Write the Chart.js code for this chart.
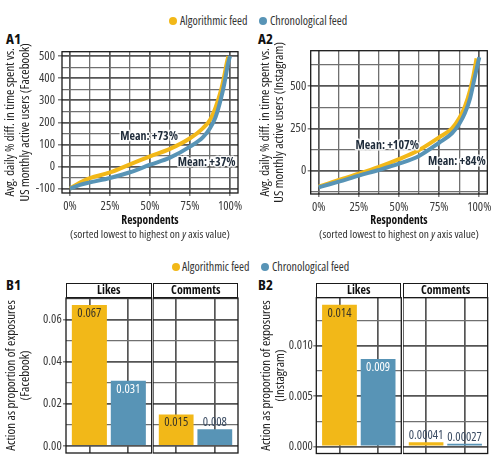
<!DOCTYPE html>
<html><head><meta charset="utf-8">
<script src="https://cdn.jsdelivr.net/npm/chart.js@4.4.1/dist/chart.umd.min.js"></script>
<style>
html,body{margin:0;padding:0;background:#fff;}
body{width:496px;height:462px;position:relative;overflow:hidden;font-family:'Open Sans',sans-serif;font-stretch:75%;color:#333;}
canvas{position:absolute;}
.tag{position:absolute;font-weight:bold;font-size:15px;line-height:15px;color:#111;font-stretch:75%;}
.leg{position:absolute;font-size:12px;line-height:12px;color:#333;white-space:nowrap;font-stretch:75%;}
.dot{position:absolute;width:8px;height:8px;border-radius:50%;}
.strip{position:absolute;box-sizing:border-box;border:1.3px solid #1a1a1a;background:#fff;font-weight:bold;font-size:12px;line-height:12.5px;color:#111;text-align:center;font-stretch:75%;}
</style></head>
<body>
<div class="dot" style="left:168.7px;top:16.7px;background:#f2b818"></div>
<div class="leg" style="left:180px;top:14.5px">Algorithmic feed</div>
<div class="dot" style="left:259px;top:16.7px;background:#5894b6"></div>
<div class="leg" style="left:270px;top:14.5px">Chronological feed</div>

<div class="dot" style="left:171.7px;top:262.7px;background:#f2b818"></div>
<div class="leg" style="left:182px;top:260.5px">Algorithmic feed</div>
<div class="dot" style="left:260.7px;top:262.7px;background:#5894b6"></div>
<div class="leg" style="left:272px;top:260.5px">Chronological feed</div>

<div class="tag" style="left:6px;top:30.5px">A1</div>
<div class="tag" style="left:258px;top:30.5px">A2</div>
<div class="tag" style="left:6px;top:276.5px">B1</div>
<div class="tag" style="left:258px;top:276.5px">B2</div>

<canvas id="a1" width="248" height="210" style="left:0;top:40px;width:248px;height:210px"></canvas>
<canvas id="a2" width="248" height="210" style="left:248px;top:40px;width:248px;height:210px"></canvas>
<canvas id="b1l" width="153" height="160" style="left:0;top:296px;width:153px;height:160px"></canvas>
<canvas id="b1c" width="87" height="160" style="left:153.3px;top:296px;width:87px;height:160px"></canvas>
<canvas id="b2l" width="155" height="160" style="left:248px;top:296px;width:155px;height:160px"></canvas>
<canvas id="b2c" width="87" height="160" style="left:403.3px;top:296px;width:87px;height:160px"></canvas>

<div class="strip" style="left:66px;top:283px;width:85.7px;height:15.3px">Likes</div>
<div class="strip" style="left:153.3px;top:283px;width:85px;height:15.3px">Comments</div>
<div class="strip" style="left:316.3px;top:282.7px;width:85px;height:15.3px">Likes</div>
<div class="strip" style="left:403.3px;top:282.7px;width:84.7px;height:15.3px">Comments</div>

<script>
// ---------- DATA ----------
const feeds = ['Algorithmic feed', 'Chronological feed'];
const metrics = ['Likes', 'Comments'];

// Panel A1 (Facebook): % of respondents (x) vs avg daily % diff (y)
const a1AlgoPct   = [0, 6.25, 12.5, 25, 37.5, 50, 62.5, 75, 83, 87.5, 91, 94.4, 96.5, 98, 99];
const a1AlgoVal   = [-100, -72, -53, -27, 10, 46, 80, 128, 173, 211, 268, 346, 414, 470, 500];
const a1ChronoPct = [0, 6.25, 12.5, 25, 37.5, 50, 62.5, 75, 83, 87.5, 91, 94.4, 96.5, 98.8, 100];
const a1ChronoVal = [-100, -83, -72, -52, -26, 8, 40, 90, 132, 173, 224, 309, 377, 467, 500];
const a1Means     = ['Mean: +73%', 'Mean: +37%'];

// Panel A2 (Instagram)
const a2AlgoPct   = [0, 6.25, 12.5, 25, 37.5, 50, 62.5, 75, 83, 87.5, 91, 94.3, 96.4, 98.3];
const a2AlgoVal   = [-95, -75, -55, -18, 22, 68, 122, 197, 250, 309, 378, 477, 565, 664];
const a2ChronoPct = [0, 6.25, 12.5, 25, 37.5, 50, 62.5, 75, 83, 87.5, 91, 94.3, 96.8, 99.5, 100];
const a2ChronoVal = [-98, -82, -65, -29, 4, 41, 87, 165, 221, 276, 339, 428, 536, 650, 670];
const a2Means     = ['Mean: +107%', 'Mean: +84%'];

// Panels B: action as proportion of exposures [algorithmic, chronological]
const b1Likes    = [0.067, 0.031];
const b1Comments = [0.015, 0.008];
const b2Likes    = [0.0141, 0.0087];
const b2Comments = [0.00041, 0.00027];

// Tick / grid values
const aXGrid   = [0, 12.5, 25, 37.5, 50, 62.5, 75, 87.5, 100];
const aXLabels = [0, 25, 50, 75, 100];
const a1YGrid   = [-100, -50, 0, 50, 100, 150, 200, 250, 300, 350, 400, 450, 500];
const a1YLabels = [-100, 0, 100, 200, 300, 400, 500];
const a2YGrid   = [-125, 0, 125, 250, 375, 500, 625];
const a2YLabels = [0, 250, 500];
const b1YGrid   = [0, 0.01, 0.02, 0.03, 0.04, 0.05, 0.06, 0.07];
const b1YLabels = [0, 0.02, 0.04, 0.06];
const b2YGrid   = [0, 0.0025, 0.005, 0.0075, 0.01, 0.0125];
const b2YLabels = [0, 0.005, 0.01];

// ---------- STYLE ----------
const FAM = "'Open Sans'";
const REG = 'condensed', BOLD = 'bold condensed';
const YELLOW = '#f2b818', BLUE = '#5894b6';
const MAJ_C = '#555', MAJ_W = 1.7, MIN_C = '#707070', MIN_W = 1.3;
Chart.defaults.font.family = FAM;
Chart.defaults.font.weight = REG;
Chart.defaults.font.size = 12;
Chart.defaults.color = '#3a3a3a';
Chart.defaults.animation = false;

const has = (arr, v) => arr.some(m => Math.abs(m - v) < 1e-9);
function gridOpts(major, drawTicks, tickLength) {
  const isMaj = c => c.tick && has(major, c.tick.value);
  return {
    color: c => isMaj(c) ? MAJ_C : MIN_C,
    lineWidth: c => isMaj(c) ? MAJ_W : MIN_W,
    tickColor: c => isMaj(c) ? '#444' : 'rgba(0,0,0,0)',
    tickWidth: 1,
    offset: false,
    drawTicks: drawTicks,
    tickLength: tickLength || 0
  };
}
const setTicks = vals => (s) => { s.ticks = vals.map(v => ({value: v})); };
const fixW = w => (s) => { s.width = w; s.paddingTop = 0; s.paddingBottom = 0; };
const fixH = h => (s) => { s.height = h; s.paddingLeft = 0; s.paddingRight = 0; };

const framePlugin = {
  id: 'frame',
  beforeDatasetsDraw(chart) {
    const {ctx, chartArea: a} = chart;
    ctx.save();
    ctx.strokeStyle = '#1a1a1a'; ctx.lineWidth = 1.3;
    ctx.strokeRect(a.left, a.top, a.right - a.left, a.bottom - a.top);
    ctx.restore();
  }
};
const subtitlePlugin = {
  id: 'subtitle',
  afterDraw(chart, args, o) {
    if (!o || !o.y) return;
    const ctx = chart.ctx, a = chart.chartArea;
    const parts = [['(sorted lowest to highest on ', ''], ['y', 'italic '], [' axis value)', '']];
    ctx.save();
    ctx.fillStyle = '#333'; ctx.textBaseline = 'middle'; ctx.textAlign = 'left';
    let w = 0;
    parts.forEach(p => { ctx.font = p[1] + 'condensed 11.5px ' + FAM; w += ctx.measureText(p[0]).width; });
    let x = (a.left + a.right) / 2 - w / 2;
    parts.forEach(p => { ctx.font = p[1] + 'condensed 11.5px ' + FAM; ctx.fillText(p[0], x, o.y); x += ctx.measureText(p[0]).width; });
    ctx.restore();
  }
};
const meanPlugin = {
  id: 'means',
  afterDatasetsDraw(chart, args, o) {
    if (!o || !o.items) return;
    const ctx = chart.ctx, sx = chart.scales.x, sy = chart.scales.y;
    ctx.save();
    ctx.font = 'bold condensed 12px ' + FAM;
    ctx.textAlign = 'center'; ctx.textBaseline = 'middle';
    ctx.lineJoin = 'round';
    o.items.forEach(it => {
      const px = sx.getPixelForValue(it.x), py = sy.getPixelForValue(it.y);
      ctx.strokeStyle = 'rgba(255,255,255,0.85)'; ctx.lineWidth = 3;
      ctx.strokeText(it.text, px, py);
      ctx.fillStyle = '#1e2b3a';
      ctx.fillText(it.text, px, py);
    });
    ctx.restore();
  }
};
const barLabelPlugin = {
  id: 'barLabels',
  afterDatasetsDraw(chart, args, o) {
    if (!o || !o.labels) return;
    const ctx = chart.ctx;
    const meta = chart.getDatasetMeta(0);
    ctx.save();
    ctx.font = 'condensed 12.5px ' + FAM;
    ctx.textAlign = 'center'; ctx.textBaseline = 'middle';
    meta.data.forEach((el, i) => {
      const h = el.base - el.y;
      const inside = h > 16;
      const y = inside ? el.y + 8.3 : el.y - 6.6;
      ctx.fillStyle = inside ? o.insideColors[i] : '#3b4c63';
      ctx.fillText(o.labels[i], el.x, y);
    });
    ctx.restore();
  }
};

function lineChart(id, algoPct, algoVal, chronoPct, chronoVal, yMin, yMax, yGrid, yLabels, yTitle, cfg) {
  const toPts = (xs, ys) => xs.map((x, i) => ({x: x, y: ys[i]}));
  return new Chart(document.getElementById(id), {
    type: 'line',
    data: {datasets: [
      {label: feeds[0], data: toPts(algoPct, algoVal), borderColor: YELLOW, borderWidth: 4, pointRadius: 0, cubicInterpolationMode: 'monotone', order: 1, borderCapStyle: 'butt'},
      {label: feeds[1], data: toPts(chronoPct, chronoVal), borderColor: BLUE, borderWidth: 4, pointRadius: 0, cubicInterpolationMode: 'monotone', order: 0, borderCapStyle: 'butt'}
    ]},
    options: {
      responsive: false, animation: false,
      layout: {padding: cfg.pad},
      plugins: {legend: {display: false}, tooltip: {enabled: false},
        subtitle: {y: cfg.subY}, means: {items: cfg.means}},
      scales: {
        x: {type: 'linear', min: -5, max: 105, offset: false,
          afterBuildTicks: setTicks(aXGrid),
          afterFit: fixH(cfg.xH),
          ticks: {autoSkip: false, maxRotation: 0, padding: 3, color: '#3a3a3a', font: {size: 12.5, weight: REG},
            callback: v => has(aXLabels, v) ? v + '%' : ''},
          grid: gridOpts(aXLabels, true, 3),
          border: {display: false},
          title: {display: true, text: 'Respondents', color: '#111', font: {size: 11.5, weight: BOLD, lineHeight: 1.2}, padding: {top: 0, bottom: 22.1}}
        },
        y: {type: 'linear', min: yMin, max: yMax,
          afterBuildTicks: setTicks(yGrid),
          afterFit: fixW(cfg.yW),
          ticks: {autoSkip: false, padding: cfg.tickPad, color: '#3a3a3a', font: {size: 12.5, weight: REG},
            callback: v => has(yLabels, v) ? String(v) : ''},
          grid: gridOpts(yLabels, true, cfg.tickLen),
          border: {display: false},
          title: {display: true, text: yTitle, color: '#222', font: {size: 13, weight: REG, lineHeight: cfg.titleLH}, padding: {top: cfg.titlePad, bottom: 0}}
        }
      }
    },
    plugins: [framePlugin, subtitlePlugin, meanPlugin]
  });
}

lineChart('a1', a1AlgoPct, a1AlgoVal, a1ChronoPct, a1ChronoVal, -120, 520, a1YGrid, a1YLabels,
  ['Avg. daily % diff. in time spent vs.', 'US monthly active users (Facebook)'],
  {pad: {top: 11.7, right: 10, bottom: 0, left: 0}, xH: 57, yW: 62, tickPad: 3, tickLen: 4, titlePad: 2.5, titleLH: 1.154, subY: 194.3,
   means: [{x: 49.4, y: 135, text: a1Means[0]}, {x: 85.4, y: 18, text: a1Means[1]}]});

lineChart('a2', a2AlgoPct, a2AlgoVal, a2ChronoPct, a2ChronoVal, -138, 709, a2YGrid, a2YLabels,
  ['Avg. daily % diff. in time spent vs.', 'US monthly active users (Instagram)'],
  {pad: {top: 10.7, right: 8.7, bottom: 0, left: 0}, xH: 56, yW: 62.7, tickPad: 1.5, tickLen: 3, titlePad: 10.1, titleLH: 1.108, subY: 194.3,
   means: [{x: 42.7, y: 148, text: a2Means[0]}, {x: 86, y: 53, text: a2Means[1]}]});

function barChart(id, values, yMin, yMax, yGrid, yLabels, fmt, cfg) {
  return new Chart(document.getElementById(id), {
    type: 'bar',
    data: {datasets: [{
      label: cfg.metric,
      data: values.map((v, i) => ({x: i + 1, y: v})),
      backgroundColor: [YELLOW, BLUE], borderWidth: 0,
      barPercentage: 0.9, categoryPercentage: 1
    }]},
    options: {
      responsive: false, animation: false,
      layout: {padding: cfg.pad},
      plugins: {legend: {display: false}, tooltip: {enabled: false},
        barLabels: {labels: values.map(fmt), insideColors: ['#3a3527', '#ffffff']}},
      scales: {
        x: {type: 'linear', min: 0.4, max: 2.6, offset: false,
          afterBuildTicks: setTicks(feeds.map((f, i) => i + 1)),
          afterFit: fixH(0),
          ticks: {display: false},
          grid: {color: MAJ_C, lineWidth: MAJ_W, drawTicks: false, offset: false},
          border: {display: false}
        },
        y: {type: 'linear', min: yMin, max: yMax, beginAtZero: false,
          afterBuildTicks: setTicks(yGrid),
          afterFit: fixW(cfg.yW),
          ticks: {display: cfg.showY, autoSkip: false, padding: cfg.tickPad || 0, color: '#3a3a3a', font: {size: 12.5, weight: REG},
            callback: v => has(yLabels, v) ? cfg.yFmt(v) : ''},
          grid: gridOpts(yLabels, cfg.showY, cfg.showY ? 3 : 0),
          border: {display: false},
          title: {display: !!cfg.yTitle, text: cfg.yTitle || '', color: '#222', font: {size: 13, weight: REG, lineHeight: cfg.titleLH || 1}, padding: {top: cfg.titlePad || 0, bottom: 0}}
        }
      }
    },
    plugins: [framePlugin, barLabelPlugin]
  });
}

const b1Fmt = v => v.toFixed(3);
const b2LikesFmt = v => v.toFixed(3);
const b2CommFmt = v => v.toFixed(5);
const b1Axis = v => v.toFixed(2);
const b2Axis = v => v.toFixed(3);

barChart('b1l', b1Likes, -0.00335, 0.07035, b1YGrid, b1YLabels, b1Fmt,
  {metric: metrics[0], pad: {top: 2, right: 1.3, bottom: 3, left: 0}, yW: 66, showY: true, tickPad: 1.3, yFmt: b1Axis,
   yTitle: ['Action as proportion of exposures', '(Facebook)'], titlePad: 5.05, titleLH: 1.023});
barChart('b1c', b1Comments, -0.00335, 0.07035, b1YGrid, b1YLabels, b1Fmt,
  {metric: metrics[1], pad: {top: 2, right: 2, bottom: 3, left: 0}, yW: 0, showY: false, yFmt: b1Axis});
barChart('b2l', b2Likes, -0.000705, 0.0148, b2YGrid, b2YLabels, b2LikesFmt,
  {metric: metrics[0], pad: {top: 1.7, right: 1.7, bottom: 2.5, left: 0}, yW: 68.3, showY: true, tickPad: 0.5, yFmt: b2Axis,
   yTitle: ['Action as proportion of exposures', '(Instagram)'], titlePad: 11.3, titleLH: 1.077});
barChart('b2c', b2Comments, -0.000705, 0.0148, b2YGrid, b2YLabels, b2CommFmt,
  {metric: metrics[1], pad: {top: 1.7, right: 2.3, bottom: 2.5, left: 0}, yW: 0, showY: false, yFmt: b2Axis});
</script>
</body></html>
